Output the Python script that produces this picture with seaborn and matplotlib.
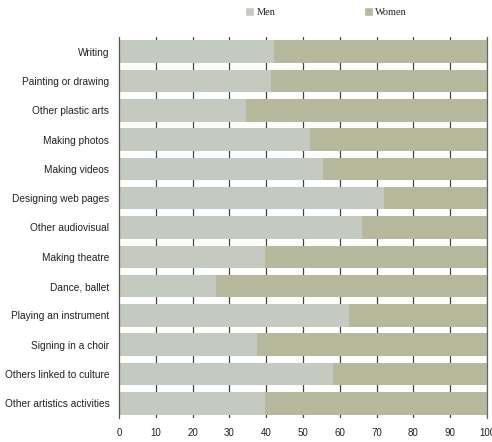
import matplotlib
matplotlib.use("Agg")
import matplotlib.pyplot as plt
import seaborn as sns
import pandas as pd
from matplotlib.patches import Patch

categories = ["Writing", "Painting or drawing", "Other plastic arts", "Making photos",
              "Making videos", "Designing web pages", "Other audiovisual", "Making theatre",
              "Dance, ballet", "Playing an instrument", "Signing in a choir",
              "Others linked to culture", "Other artistics activities"]
men = [42.1, 41.3, 34.5, 51.9, 55.4, 72.0, 66.0, 39.7, 26.4, 62.5, 37.5, 58.2, 39.7]
women = [100 - m for m in men]
xticks = [0, 10, 20, 30, 40, 50, 60, 70, 80, 90, 100]

men_color = "#c5cac0"
women_color = "#b6b99c"

df = pd.DataFrame({"category": categories, "Men": men, "Women": women})
df["Total"] = df["Men"] + df["Women"]

sns.set_style("white")
plt.rcParams["font.family"] = ["Liberation Sans", "DejaVu Sans"]

fig = plt.figure(figsize=(4.92, 4.42), dpi=100)
ax = fig.add_axes([119 / 492, (442 - 418) / 442, (487 - 119) / 492, (418 - 37) / 442])

sns.barplot(data=df, y="category", x="Total", color=women_color, width=0.77,
            ax=ax, orient="h", linewidth=0, saturation=1, zorder=2)
sns.barplot(data=df, y="category", x="Men", color=men_color, width=0.77,
            ax=ax, orient="h", linewidth=0, saturation=1, zorder=3)

ax.set_xlim(0, 100)
ax.set_ylim(len(categories) - 0.5, -0.5)
ax.set_xticks(xticks)
ax.set_xticklabels([str(t) for t in xticks], fontsize=7, color="#222222")
ax.tick_params(axis="x", length=0, pad=7)
ax.tick_params(axis="y", length=0, pad=7, labelsize=7.3, labelcolor="#222222")
ax.set_xlabel("")
ax.set_ylabel("")
ax.set_axisbelow(True)
for t in xticks[1:]:
    ax.axvline(t, color="#444444", linewidth=0.9, zorder=1)

for s in ["top", "bottom"]:
    ax.spines[s].set_visible(False)
ax.spines["left"].set_visible(True)
ax.spines["left"].set_color("#555555")
ax.spines["left"].set_linewidth(0.9)
ax.spines["left"].set_zorder(4)
ax.spines["right"].set_visible(True)
ax.spines["right"].set_color("#666666")
ax.spines["right"].set_linewidth(0.9)

handles = [Patch(facecolor=men_color, label="Men"), Patch(facecolor=women_color, label="Women")]
fig.legend(handles=handles, loc="center", bbox_to_anchor=(326 / 492, 1 - 12 / 442), ncol=2,
           frameon=False, prop={"family": "Liberation Serif", "size": 7.5},
           handlelength=0.9, handleheight=0.9, handletextpad=0.2, columnspacing=8.5)

fig.savefig("out.png", dpi=100)
